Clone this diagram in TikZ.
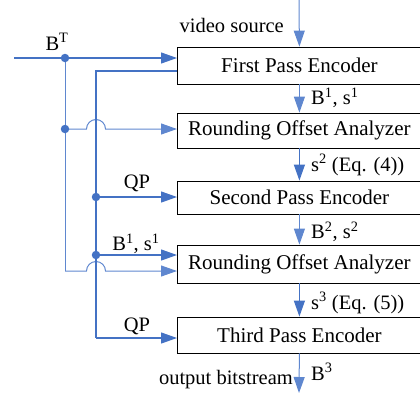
\documentclass[tikz,border=0pt]{standalone}
\usepackage{fontspec}
\setmainfont{Liberation Serif}
\usetikzlibrary{arrows.meta}
\definecolor{lnblue}{HTML}{4472C4}
\definecolor{lnlight}{HTML}{5F87CF}
\begin{document}
\begin{tikzpicture}[x=1pt,y=-1pt,
  box/.style={draw=black,line width=0.8pt,minimum width=244pt,anchor=west,inner sep=0pt,font=\fontsize{21}{24}\selectfont},
  lbl/.style={inner sep=0pt,font=\fontsize{20.5}{23}\selectfont},
  conn/.style={draw=lnblue,line width=1.2pt},
  thin/.style={draw=lnlight,line width=1pt},
  arr/.style={-{Triangle[length=16pt,width=11pt]}},
  dot/.style={circle,fill=lnblue,inner sep=0pt,minimum size=8.5pt}]
\clip (0,0) rectangle (420,394);
\useasboundingbox (0,0) rectangle (420,394);
% boxes
\node[box,minimum height=37pt] (fp) at (177,65.5) {First Pass Encoder};
\node[box,minimum height=35pt] (roa1) at (177,130.5) {Rounding Offset Analyzer};
\node[box,minimum height=33pt] (sp) at (177,197.5) {Second Pass Encoder};
\node[box,minimum height=38pt] (roa2) at (177,264) {Rounding Offset Analyzer};
\node[box,minimum height=36pt] (tp) at (177,335) {Third Pass Encoder};
% main vertical flow
\coordinate (vs) at (299,0);
\coordinate (out) at (299,393);
\draw[thin,arr] (vs) -- (fp.north);
\draw[thin,arr] (fp.south) -- (roa1.north);
\draw[conn,arr] (roa1.south) -- (sp.north);
\draw[thin,arr] (sp.south) -- (roa2.north);
\draw[conn,arr] (roa2.south) -- (tp.north);
\draw[thin,arr] (tp.south) -- (out);
\node[lbl,anchor=east] (vsl) at (284,25) {video source};
\node[lbl,anchor=west] (l1) at (311,98) {B\textsuperscript{1}, s\textsuperscript{1}};
\node[lbl,anchor=west] (l2) at (311,165) {s\textsuperscript{2} (Eq. (4))};
\node[lbl,anchor=west] (l3) at (311,232) {B\textsuperscript{2}, s\textsuperscript{2}};
\node[lbl,anchor=west] (l4) at (311,303) {s\textsuperscript{3} (Eq. (5))};
\node[lbl,anchor=west] (l5) at (311,372) {B\textsuperscript{3}};
\node[lbl,anchor=east] (obl) at (293,380) {output bitstream};
% left side: target bits
\coordinate (bt0) at (14,58);
\coordinate (j1) at (65,58);
\coordinate (j2) at (65,129);
\coordinate (c1) at (65,271);
\draw[conn,arr] (bt0) -- (j1 -| fp.west);
\node[lbl] (btl) at (57,42) {B\textsuperscript{T}};
\draw[thin] (j1) -- (c1);
\draw[thin,arr] (j2) -- (86.5,129) arc[start angle=180,end angle=0,radius=9.5pt] -- (j2 -| roa1.west);
\draw[thin,arr] (c1) -- (86.5,271) arc[start angle=180,end angle=0,radius=9.5pt] -- (c1 -| roa2.west);
% feedback from first pass
\coordinate (fpo) at (177,71);
\coordinate (k0) at (96,71);
\coordinate (j3) at (96,197);
\coordinate (j4) at (96,255);
\coordinate (k1) at (96,338);
\draw[conn] (fpo) -- (k0) -- (k1);
\draw[conn,arr] (k1) -- (k1 -| tp.west);
\draw[conn,arr] (j3) -- (j3 -| sp.west);
\draw[conn,arr] (j4) -- (j4 -| roa2.west);
\node[lbl] (qp1) at (137,183) {QP};
\node[lbl] (bs1) at (136,244) {B\textsuperscript{1}, s\textsuperscript{1}};
\node[lbl] (qp2) at (137,326) {QP};
% junction dots
\node[dot] (d1) at (j1) {};
\node[dot] (d2) at (j2) {};
\node[dot] (d3) at (j3) {};
\node[dot] (d4) at (j4) {};
\end{tikzpicture}
\end{document}
